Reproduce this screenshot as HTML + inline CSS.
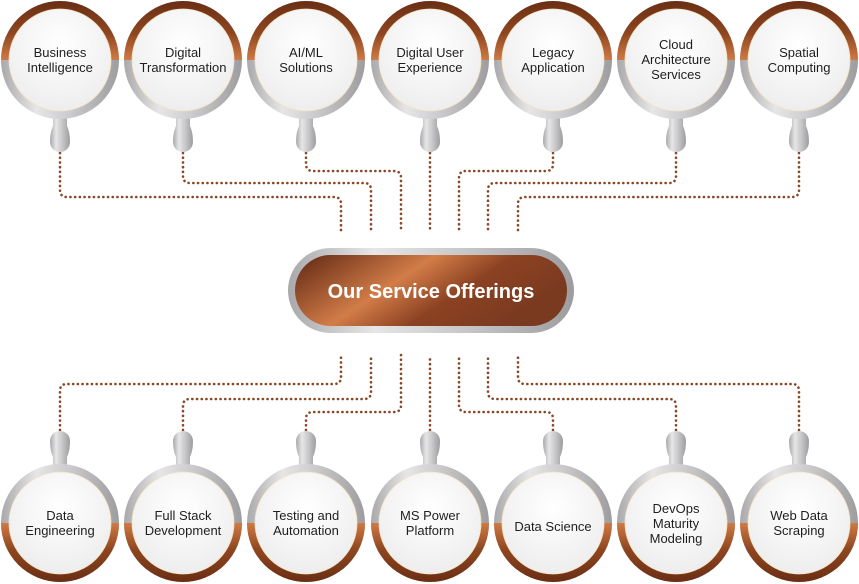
<!DOCTYPE html>
<html><head><meta charset="utf-8"><style>
html,body{margin:0;padding:0;background:#fff;width:859px;height:584px;overflow:hidden}
svg{display:block}
text{font-family:"Liberation Sans",sans-serif;font-size:13px;fill:#1e1e1e;text-anchor:middle}
</style></head><body>
<svg width="859" height="584" viewBox="0 0 859 584" xmlns="http://www.w3.org/2000/svg">
<defs>
<linearGradient id="cop" x1="0" y1="0" x2="0" y2="1">
<stop offset="0" stop-color="#6a2e14"/><stop offset="0.55" stop-color="#8e4620"/><stop offset="1" stop-color="#d07a45"/>
</linearGradient>
<linearGradient id="copB" x1="0" y1="1" x2="0" y2="0">
<stop offset="0" stop-color="#6a2e14"/><stop offset="0.55" stop-color="#8e4620"/><stop offset="1" stop-color="#d07a45"/>
</linearGradient>
<linearGradient id="sil" x1="0" y1="0" x2="1" y2="0">
<stop offset="0" stop-color="#a9a9ab"/><stop offset="0.3" stop-color="#e6e6e7"/><stop offset="0.6" stop-color="#c9c9cb"/><stop offset="1" stop-color="#9d9d9f"/>
</linearGradient>
<radialGradient id="wh" cx="0.5" cy="0.35" r="0.7">
<stop offset="0" stop-color="#ffffff"/><stop offset="1" stop-color="#ececec"/>
</radialGradient>
<linearGradient id="pill" x1="0" y1="0" x2="1" y2="0.4">
<stop offset="0" stop-color="#5e2612"/><stop offset="0.45" stop-color="#d27c48"/><stop offset="0.7" stop-color="#8c4222"/><stop offset="1" stop-color="#7a3a1f"/>
</linearGradient>
<g id="top">
<path d="M-7,50 L-7,66 Q-10,72 -10,82 A10,10 0 0 0 10,82 Q10,72 7,66 L7,50 Z" fill="url(#sil)"/>
<circle r="59" fill="url(#sil)"/>
<path d="M-59,0 A59,59 0 0 1 59,0 Z" fill="url(#cop)"/>
<circle r="51" fill="url(#wh)" stroke="#f3e3c0" stroke-width="0.8"/>
</g>
<g id="bot">
<path d="M-7,-50 L-7,-66 Q-10,-72 -10,-82 A10,10 0 0 1 10,-82 Q10,-72 7,-66 L7,-50 Z" fill="url(#sil)"/>
<circle r="59" fill="url(#sil)"/>
<path d="M-59,0 A59,59 0 0 0 59,0 Z" fill="url(#copB)"/>
<circle r="51" fill="url(#wh)" stroke="#f3e3c0" stroke-width="0.8"/>
</g>
</defs>
<g fill="none" stroke="#8a4726" stroke-width="2.6" stroke-linecap="round" stroke-dasharray="0.1 4.6">
<path d="M60,153 V190 Q60,197 67,197 H334 Q341,197 341,204 V232"/>
<path d="M183,153 V176 Q183,183 190,183 H364 Q371,183 371,190 V232"/>
<path d="M306,153 V164 Q306,171 313,171 H394 Q401,171 401,178 V232"/>
<path d="M430,153 V232"/>
<path d="M553,153 V164 Q553,171 546,171 H466 Q459,171 459,178 V232"/>
<path d="M676,153 V176 Q676,183 669,183 H495 Q488,183 488,190 V232"/>
<path d="M799,153 V190 Q799,197 792,197 H525 Q518,197 518,204 V232"/>
<path d="M60,430 V391 Q60,384 67,384 H334 Q341,384 341,377 V355"/>
<path d="M183,430 V406 Q183,399 190,399 H364 Q371,399 371,392 V355"/>
<path d="M306,430 V419 Q306,412 313,412 H394 Q401,412 401,405 V355"/>
<path d="M430,430 V355"/>
<path d="M553,430 V419 Q553,412 546,412 H466 Q459,412 459,405 V355"/>
<path d="M676,430 V406 Q676,399 669,399 H495 Q488,399 488,392 V355"/>
<path d="M799,430 V391 Q799,384 792,384 H525 Q518,384 518,377 V355"/>
</g>
<use href="#top" x="60" y="60"/><use href="#top" x="183" y="60"/><use href="#top" x="306" y="60"/><use href="#top" x="430" y="60"/><use href="#top" x="553" y="60"/><use href="#top" x="676" y="60"/><use href="#top" x="799" y="60"/>
<use href="#bot" x="60" y="523"/><use href="#bot" x="183" y="523"/><use href="#bot" x="306" y="523"/><use href="#bot" x="430" y="523"/><use href="#bot" x="553" y="523"/><use href="#bot" x="676" y="523"/><use href="#bot" x="799" y="523"/>
<rect x="288" y="248" width="286" height="85" rx="42.5" fill="url(#sil)"/>
<rect x="295" y="255" width="272" height="71" rx="35.5" fill="url(#pill)"/>
<text x="431" y="298" style="font-size:20px;font-weight:bold;fill:#fff">Our Service Offerings</text>
<text x="60" y="57">Business</text><text x="60" y="72">Intelligence</text>
<text x="183" y="57">Digital</text><text x="183" y="72">Transformation</text>
<text x="306" y="57">AI/ML</text><text x="306" y="72">Solutions</text>
<text x="430" y="57">Digital User</text><text x="430" y="72">Experience</text>
<text x="553" y="57">Legacy</text><text x="553" y="72">Application</text>
<text x="676" y="49">Cloud</text><text x="676" y="64">Architecture</text><text x="676" y="79">Services</text>
<text x="799" y="57">Spatial</text><text x="799" y="72">Computing</text>
<text x="60" y="520">Data</text><text x="60" y="535">Engineering</text>
<text x="183" y="520">Full Stack</text><text x="183" y="535">Development</text>
<text x="306" y="520">Testing and</text><text x="306" y="535">Automation</text>
<text x="430" y="520">MS Power</text><text x="430" y="535">Platform</text>
<text x="553" y="531">Data Science</text>
<text x="676" y="513">DevOps</text><text x="676" y="528">Maturity</text><text x="676" y="543">Modeling</text>
<text x="799" y="520">Web Data</text><text x="799" y="535">Scraping</text>
</svg>
</body></html>
